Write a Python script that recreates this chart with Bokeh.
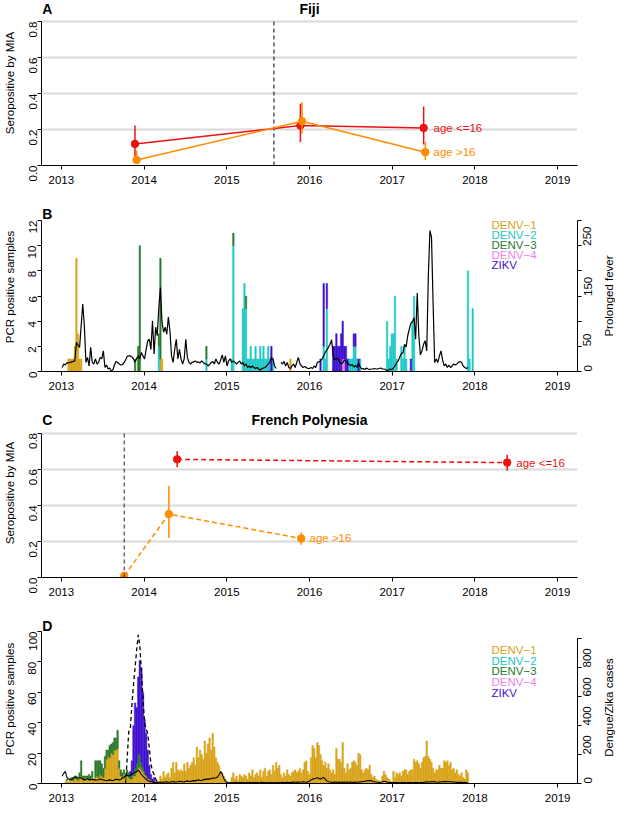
import math
import numpy as np
from bokeh.plotting import figure
from bokeh.layouts import column, row
from bokeh.models import (Range1d, LinearAxis, Label, FixedTicker,
                          PrintfTickFormatter, ColumnDataSource)
from bokeh.embed import file_html
from bokeh.resources import INLINE
from bokeh.core.properties import value

# ------------------------------------------------------------------ data
YEAR_TICKS = [2013, 2014, 2015, 2016, 2017, 2018, 2019]
WEEKS_PER_YEAR = 52.18          # weekly series start at 2013-01-01

# Panel A : Fiji serology
FIJI_INTRO = 2015.57
FIJI_YOUNG_T = [2013.89, 2015.89, 2017.38]
FIJI_YOUNG_P = [0.120, 0.222, 0.209]
FIJI_YOUNG_LO = [0.020, 0.130, 0.117]
FIJI_YOUNG_HI = [0.222, 0.343, 0.328]
FIJI_OLD_T = [2013.91, 2015.91, 2017.40]
FIJI_OLD_P = [0.031, 0.246, 0.074]
FIJI_OLD_LO = [0.009, 0.176, 0.031]
FIJI_OLD_HI = [0.083, 0.352, 0.130]

# Panel C : French Polynesia serology
FP_INTRO = 2013.76
FP_YOUNG_T = [2014.40, 2018.39]
FP_YOUNG_P = [0.654, 0.636]
FP_YOUNG_LO = [0.610, 0.591]
FP_YOUNG_HI = [0.699, 0.680]
FP_OLD_T = [2013.76, 2014.30, 2015.90]
FP_OLD_P = [0.009, 0.351, 0.216]
FP_OLD_LO = [0.000, 0.218, 0.181]
FP_OLD_HI = [0.022, 0.508, 0.250]

SERO_NAMES = ["DENV\u22121", "DENV\u22122", "DENV\u22123", "DENV\u22124", "ZIKV"]
SERO_COLORS = ["#D8A31A", "#22C8C8", "#2B7A2B", "#F080F0", "#3F10D0"]

# Panel B : Fiji PCR positives (week index since 2013-01-01, count)
B_D1_WEEKS = [4, 5, 6, 7, 8, 9, 10, 11, 12, 62, 63, 144]
B_D1_COUNTS = [1, 1, 1, 1, 2, 9, 3, 1, 1, 1, 1, 1]
B_D2_WEEKS = [61, 91, 107, 108, 114, 115, 116, 117, 118, 119, 120, 121, 122, 123,
              124, 125, 126, 127, 128, 129, 130, 131, 133, 165, 166, 167, 181, 182,
              183, 184, 185, 186, 188, 205, 206, 207, 208, 209, 210, 211, 214, 215,
              216, 217, 221, 222, 256, 257, 259]
B_D2_COUNTS = [2, 1, 1, 10, 5, 7, 5, 1, 1, 2, 1, 1, 2, 1,
               1, 2, 1, 2, 1, 1, 2, 1, 1, 2, 1, 5, 1, 1,
               1, 2, 2, 1, 1, 4, 1, 2, 3, 3, 6, 1, 2, 1,
               2, 1, 4, 6, 8, 1, 5]
B_D3_WEEKS = [46, 48, 49, 61, 62, 91, 108, 116]
B_D3_COUNTS = [1, 2, 10, 1, 8, 1, 1, 1]
B_D4_WEEKS = [177, 178]
B_D4_COUNTS = [1, 1]
B_ZK_WEEKS = [132, 163, 165, 167, 171, 172, 173, 174, 175, 176, 177, 178, 179, 180,
              184, 185, 187, 220]
B_ZK_COUNTS = [2, 1, 5, 2, 2, 2, 3, 2, 2, 3, 3, 1, 2, 1,
               1, 1, 1, 1]
N_WEEKS_B = 261

# Panel B : weekly prolonged fever (right axis), from week 0
nan = float("nan")
B_FEVER = [8, 15, 13, 17, 17, 18, 19, 20, 21, 58,
           52, 48, 91, 134, 91, 18, 28, 11, 48, 18,
           15, 25, 15, 18, 28, 25, 41, 8, 13, 5,
           7, 1, 3, 13, 20, 18, 15, 13, 14, 17,
           23, 30, 31, 31, 29, 25, 19, 26, 31, 25,
           38, 31, 25, 44, 61, 64, 44, 101, 35, 88,
           71, 127, 167, 98, 78, 88, 74, 108, 81, 31,
           18, 44, 64, 25, 44, 25, 15, 25, 64, 28,
           18, 15, 18, 19, 21, 18, 19, 17, 21, 18,
           15, 15, 11, 14, 18, 20, 15, 25, 18, 15,
           23, 33, 18, 31, 11, 21, 25, 18, 21, 18,
           15, 18, 21, 15, 18, 11, 15, 8, 11, 8,
           11, 8, 6, 8, 5, 3, 6, 7, 8, 11,
           15, 18, 28, 25, 11, 6, nan, nan, 18, 15,
           20, 11, 18, 8, 6, 11, 15, 8, 18, 28,
           15, 11, 8, 10, 8, 6, 6, 8, 6, 11,
           8, 18, 19, 21, 25, 31, 38, 43, 48, 54,
           63, 31, 23, 26, 25, 19, 15, 17, 23, 21,
           17, 14, 12, 14, 9, 12, 8, 17, 9, 5,
           6, 4, 7, 5, 4, 5, 5, 6, 5, 5,
           6, 7, 5, 5, 4, 2, 3, 5, 4, 7,
           11, 17, 21, 29, 36, 37, 54, 49, 71, 84,
           96, 99, 107, 64, 156, 71, 33, 41, 54, 61,
           41, 190, 280, 267, 137, 18, 25, 18, 31, 41,
           23, 11, 15, 8, 13, 8, 11, 15, 13, 15,
           18, 20, 18, 11, 8, 6, 8]

# Panel D : French Polynesia PCR positives, weekly from week 0
D_DENV1 = [0, 0, 1, 2, 1, 2, 3, 2, 4, 3,
           2, 4, 5, 3, 2, 4, 3, 2, 3, 4,
           2, 4, 5, 4, 6, 5, 4, 10, 16, 18,
           17, 20, 19, 22, 22, 23, 10, 5, 4, 6,
           3, 5, 4, 3, 3, 5, 5, 8, 10, 11,
           9, 8, 6, 5, 3, 3, 2, 1, 1, 1,
           2, 1, 5, 3, 8, 4, 6, 7, 4, 10,
           14, 7, 14, 9, 8, 9, 8, 13, 8, 14,
           10, 12, 14, 17, 12, 24, 17, 22, 19, 16,
           28, 20, 26, 30, 22, 33, 24, 17, 14, 12,
           8, 7, 5, 3, 1, 0, 1, 4, 7, 3,
           5, 2, 6, 5, 4, 6, 5, 3, 7, 5,
           9, 4, 6, 7, 5, 9, 4, 8, 10, 5,
           8, 9, 6, 12, 8, 14, 10, 12, 6, 4,
           7, 5, 9, 6, 5, 7, 8, 9, 7, 8,
           10, 7, 9, 14, 15, 8, 6, 17, 25, 23,
           17, 27, 25, 19, 15, 12, 14, 10, 13, 9,
           7, 9, 6, 23, 16, 16, 14, 27, 10, 7,
           13, 9, 10, 14, 15, 14, 12, 20, 19, 9,
           7, 9, 10, 9, 12, 6, 4, 5, 3, 2,
           2, 1, 5, 8, 6, 4, 3, 2, 1, 8,
           4, 7, 6, 7, 5, 8, 9, 9, 6, 8,
           9, 9, 16, 14, 15, 13, 10, 14, 17, 18,
           28, 18, 16, 14, 10, 7, 9, 9, 12, 10,
           10, 15, 14, 15, 12, 14, 9, 10, 7, 9,
           6, 5, 7, 4, 3, 9, 7]
D_DENV3 = [0, 0, 0, 1, 0, 1, 1, 2, 1, 2,
           1, 3, 10, 2, 3, 1, 2, 4, 2, 4,
           1, 11, 10, 11, 9, 8, 6, 8, 6, 4,
           8, 6, 8, 8, 8, 12, 5, 4, 3, 3,
           2, 4, 3, 2, 3, 3, 5, 5, 9, 8,
           5, 3, 2, 1, 1]
D_ZIKV_WEEKS = [43, 44, 45, 46, 47, 48, 49, 50, 51, 52, 53, 54, 55, 56, 57, 58]
D_ZIKV_COUNTS = [3, 9, 30, 43, 37, 51, 62, 62, 49, 34, 27, 18, 9, 4, 2, 3]

# Panel D : weekly dengue cases (solid) and Zika cases (dashed), right axis
D_DENGUE_CASES = [50, 70, 83, 42, 32, 30, 26, 35, 45, 42,
                  36, 40, 38, 30, 25, 28, 33, 28, 25, 30,
                  28, 25, 24, 26, 32, 28, 25, 22, 20, 22,
                  25, 22, 20, 24, 30, 28, 25, 28, 38, 42,
                  55, 58, 52, 55, 62, 72, 78, 80, 92, 80,
                  62, 50, 40, 28, 20, 14, 12, 10, 8, 8,
                  6, 8, 10, 9, 8, 10, 12, 10, 9, 12,
                  14, 11, 10, 12, 15, 14, 12, 13, 15, 18,
                  16, 14, 18, 20, 18, 22, 25, 22, 20, 25,
                  30, 28, 32, 30, 35, 38, 36, 40, 45, 60,
                  82, 65, 35, 15, 8, 6, 5, 6, 5, 7,
                  6, 5, 6, 7, 5, 6, 5, 6, 7, 6,
                  5, 6, 7, 6, 5, 6, 8, 7, 6, 5,
                  6, 5, 7, 6, 5, 6, 5, 7, 6, 8,
                  7, 6, 8, 7, 6, 8, 10, 9, 8, 10,
                  9, 10, 12, 10, 9, 11, 15, 25, 30, 34,
                  36, 39, 35, 30, 38, 41, 30, 18, 12, 10,
                  9, 8, 10, 9, 8, 10, 9, 8, 10, 9,
                  10, 9, 10, 9, 8, 10, 9, 10, 11, 12,
                  14, 16, 18, 21, 20, 18, 15, 12, 10, 9,
                  7, 8, 12, 15, 14, 10, 8, 7, 6, 7,
                  6, 7, 6, 5, 6, 7, 6, 5, 6, 7,
                  6, 5, 6, 7, 6, 5, 6, 7, 8, 10,
                  12, 10, 11, 12, 14, 12, 10, 9, 10, 11,
                  12, 14, 13, 12, 14, 12, 11, 10, 9, 8,
                  8, 9, 8, 7, 8, 6, 5]
D_ZIKA_WEEKS = [40, 41, 42, 43, 44, 45, 46, 47, 48, 49, 50, 51, 52, 53, 54, 55,
                56, 57, 58, 59, 60]
D_ZIKA_CASES = [0, 167, 356, 377, 544, 680, 795, 920, 1025, 952, 774, 586, 418,
                377, 345, 241, 136, 84, 63, 31, 10]

# ------------------------------------------------------------------ style
FONT = "Liberation Sans"
FS = "11.5px"
TITLE_FS = "14px"
RED = "#EE1111"
ORANGE = "#FF8C00"
X0, X1 = 2012.76, 2019.24
FRAME_W = 536
LEFT = 41
RIGHT_PLAIN = 38      # panels without a right axis
RIGHT_AXIS = 24       # room for right tick labels
SIDE_W = 14           # strip holding the right-axis title


def week_x(weeks):
    return 2013.0 + (np.asarray(weeks, dtype=float) + 0.5) / WEEKS_PER_YEAR


def dense(weeks, counts, n):
    a = np.zeros(n)
    a[np.asarray(weeks, dtype=int)] = counts
    return a


def pad(arr, n):
    a = np.zeros(n)
    a[:len(arr)] = arr
    return a


def style_axis(ax, vertical=False):
    ax.axis_line_color = "black"
    ax.axis_line_width = 1
    ax.major_tick_line_color = "black"
    ax.major_tick_out = 4
    ax.major_tick_in = 0
    ax.minor_tick_line_color = None
    ax.major_label_text_font = FONT
    ax.major_label_text_font_size = FS
    ax.major_label_text_color = "black"
    ax.axis_label_text_font = FONT
    ax.axis_label_text_font_size = FS
    ax.axis_label_text_font_style = "normal"
    ax.axis_label_text_color = "black"
    if vertical:
        ax.major_label_orientation = math.pi / 2
        ax.major_label_standoff = 5
        ax.axis_label_standoff = 6
    else:
        ax.major_label_standoff = 6


class Panel:
    """frame_h: full frame height (px); data_h: px spanned by 0..vmax."""

    def __init__(self, frame_h, data_h, vmax, bottom, yticks, fmt, ylabel, right):
        self.frame_h = frame_h
        self.bottom = bottom
        self.scale = frame_h / data_h
        self.vmax = vmax
        self.data_h = data_h
        p = figure(frame_width=FRAME_W, frame_height=frame_h,
                   x_range=Range1d(X0, X1), y_range=Range1d(0, vmax * self.scale),
                   output_backend="svg", toolbar_location=None,
                   min_border_left=LEFT, min_border_right=right,
                   min_border_top=0, min_border_bottom=bottom,
                   background_fill_color="white", border_fill_color="white",
                   outline_line_color=None)
        p.xgrid.visible = False
        p.ygrid.visible = False
        xa = p.xaxis[0]
        xa.ticker = FixedTicker(ticks=YEAR_TICKS)
        xa.formatter = PrintfTickFormatter(format="%d")
        style_axis(xa)
        ya = p.yaxis[0]
        ya.ticker = FixedTicker(ticks=yticks)
        ya.formatter = PrintfTickFormatter(format=fmt)
        ya.axis_label = ylabel
        ya.bounds = (0, vmax)
        style_axis(ya, vertical=True)
        self.p = p

    def above(self, px):
        return self.vmax + px * self.vmax / self.data_h

    def below_top(self, px):
        return self.vmax - px * self.vmax / self.data_h

    def grid(self, ticks):
        self.p.ygrid.visible = True
        self.p.ygrid.ticker = FixedTicker(ticks=ticks)
        self.p.ygrid.grid_line_color = "#D9D9D9"
        self.p.ygrid.grid_line_width = 2

    def right_axis(self, name, rmax, ticks, hidden):
        self.p.extra_y_ranges = {name: Range1d(0, rmax * self.scale)}
        ax = LinearAxis(y_range_name=name,
                        ticker=FixedTicker(ticks=ticks),
                        formatter=PrintfTickFormatter(format="%d"),
                        bounds=(0, ticks[-1]))
        style_axis(ax, vertical=True)
        ax.major_label_overrides = {t: "" for t in hidden}
        ax.major_label_standoff = 6
        self.p.add_layout(ax, "right")

    def side_title(self, text):
        """Narrow strip to the right carrying the right-axis title (bottom-to-top)."""
        s = figure(frame_width=SIDE_W, frame_height=self.frame_h,
                   x_range=Range1d(0, 1), y_range=Range1d(0, self.vmax * self.scale),
                   output_backend="svg", toolbar_location=None,
                   x_axis_location=None, y_axis_location=None,
                   min_border_left=0, min_border_right=0,
                   min_border_top=0, min_border_bottom=self.bottom,
                   background_fill_color="white", border_fill_color="white",
                   outline_line_color=None)
        s.xgrid.visible = False
        s.ygrid.visible = False
        s.text(x=[0.5], y=[self.vmax / 2], text=[text], angle=math.pi / 2,
               text_align="center", text_baseline="middle",
               text_font=value(FONT), text_font_size=value(FS), text_color="black")
        return s


def add_label(p, x, y, text, size=FS, bold=False, color="black", align="left"):
    p.add_layout(Label(x=x, y=y, text=text, text_font=FONT, text_font_size=size,
                       text_font_style="bold" if bold else "normal",
                       text_color=color, text_align=align, text_baseline="middle"))


def sero_panel(p, series, dash):
    for t, pr, lo, hi, col in series:
        p.line(t, pr, line_color=col, line_width=1.5, line_dash=dash)
        p.segment(x0=t, y0=lo, x1=t, y1=hi, line_color=col, line_width=1.5)
        p.scatter(t, pr, size=7.5, fill_color=col, line_color=col)


def intro_line(p, x, top, color):
    p.segment(x0=[x], y0=[0], x1=[x], y1=[top], line_color=color,
              line_dash="4 3", line_width=1)


def stacked_bars(p, layers):
    n = len(layers[0])
    xs = week_x(np.arange(n))
    bottom = np.zeros(n)
    for arr, col in zip(layers, SERO_COLORS):
        m = arr > 0
        top = bottom + arr
        p.vbar(x=xs[m], bottom=bottom[m], top=top[m], width=1.0 / WEEKS_PER_YEAR,
               fill_color=col, line_color=col, line_width=0.4)
        bottom = top


def legend(p, x, y_first, step):
    src = ColumnDataSource(dict(x=[x] * 5, y=[y_first - i * step for i in range(5)],
                                t=SERO_NAMES, c=SERO_COLORS))
    p.text(x="x", y="y", text="t", text_color="c", source=src,
           text_font=value(FONT), text_font_size=value(FS),
           text_align="left", text_baseline="middle")


# ------------------------------------------------------------------ panel A
A = Panel(165, 144, 0.8, 37, [0, 0.2, 0.4, 0.6, 0.8], "%.1f", "Seropositive by MIA",
          RIGHT_PLAIN)
pa = A.p
A.grid([0.2, 0.4, 0.6, 0.8])
intro_line(pa, FIJI_INTRO, 0.8, "black")
sero_panel(pa, [(FIJI_YOUNG_T, FIJI_YOUNG_P, FIJI_YOUNG_LO, FIJI_YOUNG_HI, RED),
                (FIJI_OLD_T, FIJI_OLD_P, FIJI_OLD_LO, FIJI_OLD_HI, ORANGE)], "solid")
add_label(pa, 2017.5, FIJI_YOUNG_P[-1], "age <=16", color=RED)
add_label(pa, 2017.5, FIJI_OLD_P[-1], "age >16", color=ORANGE)
add_label(pa, 2016.0, A.above(12.3), "Fiji", size=TITLE_FS, bold=True, align="center")
add_label(pa, X0 + 0.01, A.above(12.3), "A", size=TITLE_FS, bold=True)

# ------------------------------------------------------------------ panel B
B = Panel(169, 151, 12, 37, [0, 2, 4, 6, 8, 10, 12], "%d", "PCR positive samples",
          RIGHT_AXIS)
pb = B.p
B.right_axis("fever", 300, [0, 50, 100, 150, 200, 250, 300], [100, 200, 300])
layers_b = [dense(B_D1_WEEKS, B_D1_COUNTS, N_WEEKS_B),
            dense(B_D2_WEEKS, B_D2_COUNTS, N_WEEKS_B),
            dense(B_D3_WEEKS, B_D3_COUNTS, N_WEEKS_B),
            dense(B_D4_WEEKS, B_D4_COUNTS, N_WEEKS_B),
            dense(B_ZK_WEEKS, B_ZK_COUNTS, N_WEEKS_B)]
stacked_bars(pb, layers_b)
pb.line(week_x(np.arange(len(B_FEVER))), np.array(B_FEVER, dtype=float),
        line_color="black", line_width=1.2, y_range_name="fever")
legend(pb, 2018.2, B.below_top(4.3), 10.0 * 12 / 151)
add_label(pb, X0 + 0.01, B.above(7.0), "B", size=TITLE_FS, bold=True)
row_b = row(pb, B.side_title("Prolonged fever"), spacing=0)

# ------------------------------------------------------------------ panel C
C = Panel(169, 144.5, 0.8, 37, [0, 0.2, 0.4, 0.6, 0.8], "%.1f", "Seropositive by MIA",
          RIGHT_PLAIN)
pc = C.p
C.grid([0.2, 0.4, 0.6, 0.8])
sero_panel(pc, [(FP_YOUNG_T, FP_YOUNG_P, FP_YOUNG_LO, FP_YOUNG_HI, RED),
                (FP_OLD_T, FP_OLD_P, FP_OLD_LO, FP_OLD_HI, ORANGE)], "5 3")
intro_line(pc, FP_INTRO, 0.8, "#222222")
add_label(pc, 2018.5, FP_YOUNG_P[-1], "age <=16", color=RED)
add_label(pc, 2016.0, FP_OLD_P[-1], "age >16", color=ORANGE)
add_label(pc, 2016.0, C.above(13.3), "French Polynesia", size=TITLE_FS, bold=True,
          align="center")
add_label(pc, X0 + 0.01, C.above(13.3), "C", size=TITLE_FS, bold=True)

# ------------------------------------------------------------------ panel D
D = Panel(169, 152, 100, 29, [0, 20, 40, 60, 80, 100], "%d", "PCR positive samples",
          RIGHT_AXIS)
pd_ = D.p
D.right_axis("cases", 1048, [0, 200, 400, 600, 800, 1000], [1000])
n_d = len(D_DENV1)
layers_d = [np.array(D_DENV1, dtype=float), np.zeros(n_d), pad(D_DENV3, n_d),
            np.zeros(n_d), dense(D_ZIKV_WEEKS, D_ZIKV_COUNTS, n_d)]
stacked_bars(pd_, layers_d)
pd_.line(week_x(np.arange(len(D_DENGUE_CASES))), D_DENGUE_CASES, line_color="black",
         line_width=1.1, y_range_name="cases")
pd_.line(week_x(D_ZIKA_WEEKS), D_ZIKA_CASES, line_color="black", line_width=1.3,
         line_dash="4 3", y_range_name="cases")
legend(pd_, 2018.2, D.below_top(18.3), 10.75 * 100 / 152)
add_label(pd_, X0 + 0.01, D.above(6.0), "D", size=TITLE_FS, bold=True)
row_d = row(pd_, D.side_title("Dengue/Zika cases"), spacing=0)

layout = column(pa, row_b, pc, row_d, spacing=0)
open("out.html", "w").write(file_html(layout, INLINE))
